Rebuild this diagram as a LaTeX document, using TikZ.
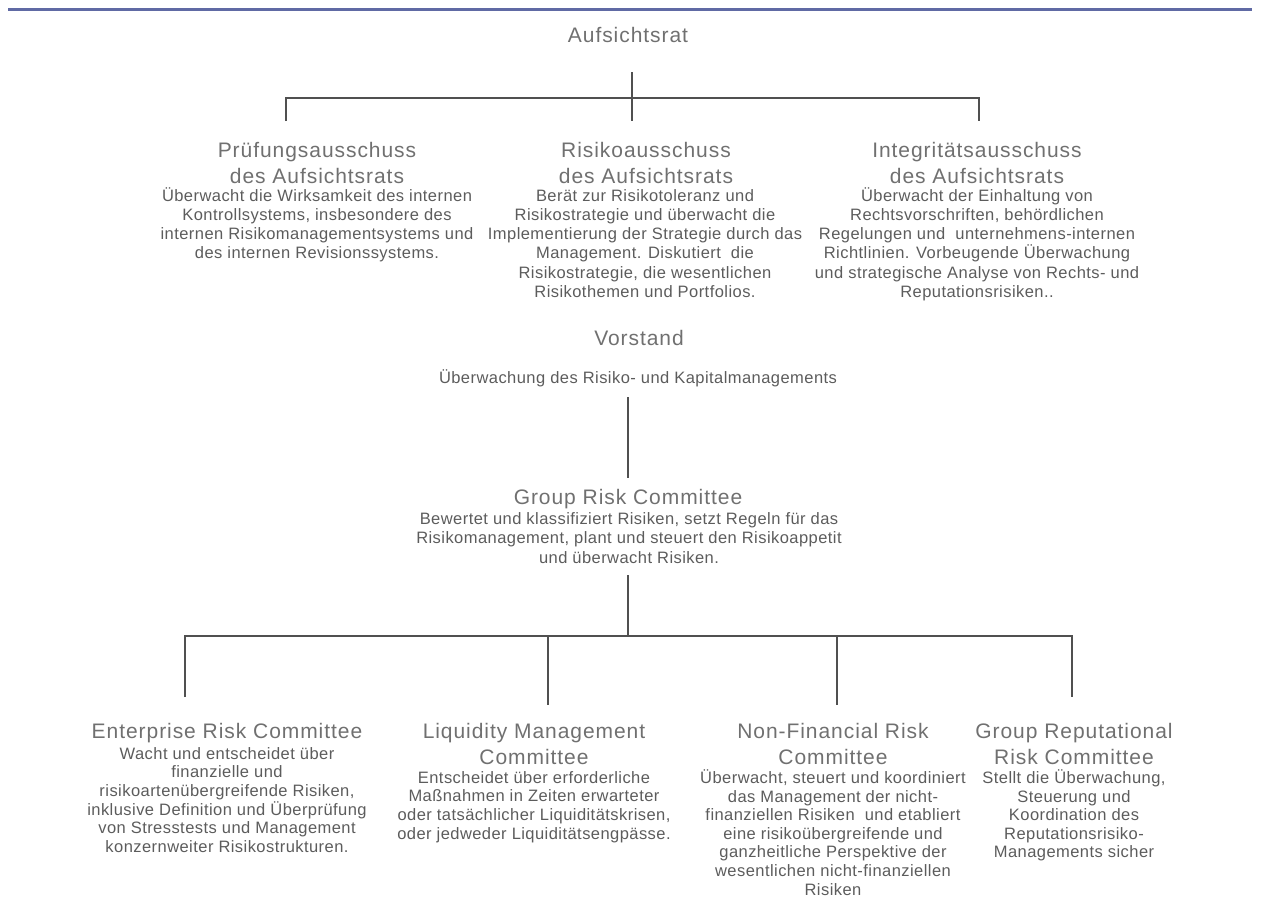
\documentclass[tikz,border=0pt]{standalone}
\usepackage{fontspec}
\setmainfont{Liberation Sans}
\newfontfamily\titlef{Liberation Sans}[LetterSpace=4.5]
\newfontfamily\bodyf{Liberation Sans}[LetterSpace=2.7]
\newcommand\FT{\rule{0pt}{20pt}}
\newcommand\FB{\rule{0pt}{16pt}}
\definecolor{topblue}{RGB}{96,106,164}
\definecolor{ttlgray}{RGB}{112,112,112}
\definecolor{bdygray}{RGB}{92,92,92}
\definecolor{lngray}{RGB}{80,80,80}
\tikzset{
  ttl/.style={anchor=north, inner sep=0pt, align=center, text=ttlgray,
    font=\titlef\fontsize{21pt}{25.8pt}\selectfont},
  bdy/.style={anchor=north, inner sep=0pt, align=center, text=bdygray,
    font=\bodyf\fontsize{16.5pt}{19.2pt}\selectfont},
  bdyb/.style={bdy, font=\bodyf\fontsize{16.5pt}{18.6pt}\selectfont},
  conn/.style={draw=lngray, line width=1.5pt},
  topline/.style={draw=topblue, line width=3pt}
}
\begin{document}
\begin{tikzpicture}[x=1pt,y=-1pt]
\useasboundingbox (0,0) rectangle (1262,908);
% top rule
\coordinate (tl) at (8,9);
\coordinate (tr) at (1252,9);
\draw[topline] (tl) -- (tr);

% Aufsichtsrat level
\node[ttl] (ar) at (628,22) {\FT Aufsichtsrat};
\node[ttl] (pa) at (317,137) {\FT Prüfungsausschuss\\des Aufsichtsrats};
\node[bdy] (pab) at (317,185) {\FB Überwacht die Wirksamkeit des internen\\Kontrollsystems, insbesondere des\\internen Risikomanagementsystems und\\des internen Revisionssystems.};
\node[ttl] (ra) at (646,137) {\FT Risikoausschuss\\des Aufsichtsrats};
\node[bdy] (rab) at (645,185) {\FB Berät zur Risikotoleranz und\\Risikostrategie und überwacht die\\Implementierung der Strategie durch das\\Management. Diskutiert\ \ die\\Risikostrategie, die wesentlichen\\Risikothemen und Portfolios.};
\node[ttl] (ia) at (977,137) {\FT Integritätsausschuss\\des Aufsichtsrats};
\node[bdy] (iab) at (977,185) {\FB Überwacht der Einhaltung von\\Rechtsvorschriften, behördlichen\\Regelungen und\ \ unternehmens-internen\\Richtlinien. Vorbeugende Überwachung\\und strategische Analyse von Rechts- und\\Reputationsrisiken..};

\coordinate (a0) at (632,72);
\coordinate (aj) at (632,98);
\coordinate (a1) at (632,121);
\coordinate (al) at (286,98);
\coordinate (al2) at (286,121);
\coordinate (ar0) at (979,98);
\coordinate (ar2) at (979,121);
\draw[conn] (a0) -- (a1);
\draw[conn] (al2) -- (al) -- (ar0) -- (ar2);

% Vorstand
\node[ttl] (vs) at (639,325) {\FT Vorstand};
\node[bdy] (vsb) at (638,367) {\FB Überwachung des Risiko- und Kapitalmanagements};
\coordinate (v0) at (628,397);
\coordinate (v1) at (628,478);
\draw[conn] (v0) -- (v1);

% Group Risk Committee
\node[ttl] (grc) at (628,484) {\FT Group Risk Committee};
\node[bdy] (grcb) at (629,508.5) {\FB Bewertet und klassifiziert Risiken, setzt Regeln für das\\Risikomanagement, plant und steuert den Risikoappetit\\und überwacht Risiken.};

\coordinate (g0) at (628,575);
\coordinate (gj) at (628,636);
\coordinate (b1) at (185,636);
\coordinate (b1e) at (185,697);
\coordinate (b2) at (548,636);
\coordinate (b2e) at (548,705);
\coordinate (b3) at (837,636);
\coordinate (b3e) at (837,705);
\coordinate (b4) at (1072,636);
\coordinate (b4e) at (1072,697);
\draw[conn] (g0) -- (gj);
\draw[conn] (b1e) -- (b1) -- (b4) -- (b4e);
\draw[conn] (b2) -- (b2e);
\draw[conn] (b3) -- (b3e);

% bottom committees
\node[ttl] (erc) at (227,718) {\FT Enterprise Risk Committee};
\node[bdyb] (ercb) at (227,743) {\FB Wacht und entscheidet über\\finanzielle und\\risikoartenübergreifende Risiken,\\inklusive Definition und Überprüfung\\von Stresstests und Management\\konzernweiter Risikostrukturen.};
\node[ttl] (lmc) at (534,718) {\FT Liquidity Management\\Committee};
\node[bdyb] (lmcb) at (534,767) {\FB Entscheidet über erforderliche\\Maßnahmen in Zeiten erwarteter\\oder tatsächlicher Liquiditätskrisen,\\oder jedweder Liquiditätsengpässe.};
\node[ttl] (nfr) at (833,718) {\FT Non-Financial Risk\\Committee};
\node[bdyb] (nfrb) at (833,767.3) {\FB Überwacht, steuert und koordiniert\\das Management der nicht-\\finanziellen Risiken\ \ und etabliert\\eine risikoübergreifende und\\ganzheitliche Perspektive der\\wesentlichen nicht-finanziellen\\Risiken};
\node[ttl] (grr) at (1074,718) {\FT Group Reputational\\Risk Committee};
\node[bdyb] (grrb) at (1074,767.3) {\FB Stellt die Überwachung,\\Steuerung und\\Koordination des\\Reputationsrisiko-\\Managements sicher};
\end{tikzpicture}
\end{document}
